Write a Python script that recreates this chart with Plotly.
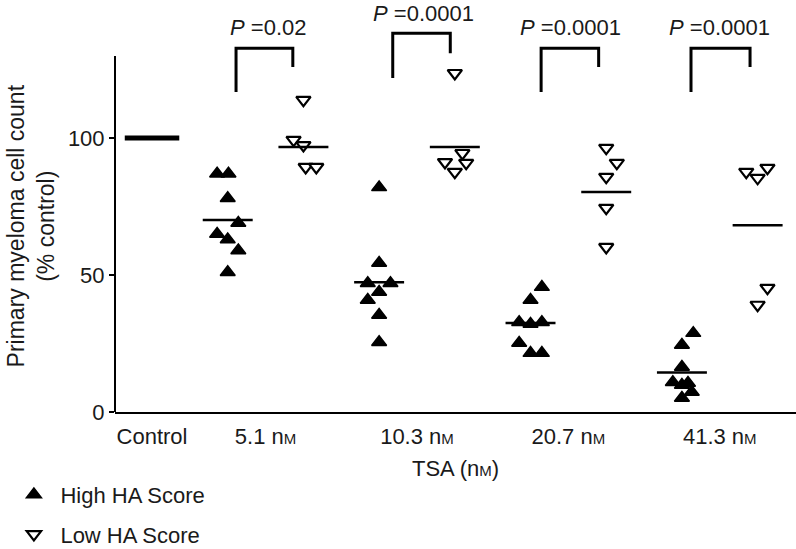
import plotly.graph_objects as go

# ---------------- data ----------------
categories = ["Control", "5.1 nM", "10.3 nM", "20.7 nM", "41.3 nM"]
tick_labels = ["Control",
               "5.1 n<span style='font-size:15px'>M</span>",
               "10.3 n<span style='font-size:15px'>M</span>",
               "20.7 n<span style='font-size:15px'>M</span>",
               "41.3 n<span style='font-size:15px'>M</span>"]
control_value = 100

high_5_1 = [87, 87, 78, 69, 65, 63, 59, 51]
high_10_3 = [82, 54.4, 47, 47, 43.8, 40.9, 35.4, 25.5]
high_20_7 = [45.6, 40.9, 32.8, 32.8, 32.1, 25.2, 21.5, 21.5]
high_41_3 = [28.8, 24.5, 16.4, 10.9, 10.6, 9.9, 7.3, 5.1]

low_5_1 = [113.9, 99.3, 97.4, 89.4, 89.4]
low_10_3 = [123.7, 94.5, 91.2, 90.9, 87.6]
low_20_7 = [96.4, 90.9, 85.8, 74.5, 60.2]
low_41_3 = [89.1, 87.6, 85.4, 45.3, 39.1]

high_means = [70.1, 47.4, 32.5, 14.4]
low_means = [96.7, 96.7, 80.3, 68.2]

p_values = ["0.02", "0.0001", "0.0001", "0.0001"]

# horizontal scatter of the points inside each group (category units)
jit_high = [
    [-0.14, 0.01, 0, 0.14, -0.14, 0, 0.14, 0],
    [0, 0, -0.15, 0.15, 0, -0.15, 0, 0],
    [0.15, 0, -0.15, 0.15, 0, -0.15, 0, 0.15],
    [0.15, 0, 0, -0.12, 0.08, 0, 0.13, 0],
]
jit_low = [
    [0, -0.13, 0, 0.03, 0.17],
    [0, 0.1, -0.13, 0.15, 0],
    [0, 0.14, 0, 0, 0],
    [0.13, -0.15, 0, 0.13, 0],
]

high_groups = [high_5_1, high_10_3, high_20_7, high_41_3]
low_groups = [low_5_1, low_10_3, low_20_7, low_41_3]

# ---------------- layout positions ----------------
ctrl_x = 0
high_x = [1, 3, 5, 7]
low_x = [2, 4, 6, 8]
tick_x = [0, 1.5, 3.5, 5.5, 7.5]

FONT = "Liberation Sans, Arial, Helvetica, sans-serif"
TXT = "#1a1a1a"
fig = go.Figure()

# data points
hx, hy, lx, ly = [], [], [], []
for g, xc, jit in zip(high_groups, high_x, jit_high):
    for v, j in zip(g, jit):
        hx.append(xc + j); hy.append(v)
for g, xc, jit in zip(low_groups, low_x, jit_low):
    for v, j in zip(g, jit):
        lx.append(xc + j); ly.append(v)

fig.add_trace(go.Scatter(
    x=hx, y=hy, mode="markers", name="High HA Score", legendgroup="a",
    marker=dict(symbol="triangle-up", size=13, color="black",
                line=dict(color="black", width=1.5)),
    cliponaxis=False))
fig.add_trace(go.Scatter(
    x=lx, y=ly, mode="markers", name="Low HA Score", legendgroup="b",
    marker=dict(symbol="triangle-down", size=12.5, color="white",
                line=dict(color="black", width=2.2)),
    cliponaxis=False))

# mean lines
hw = 0.33
for xc, m in zip(high_x + low_x, high_means + low_means):
    fig.add_trace(go.Scatter(x=[xc - hw, xc + hw], y=[m, m], mode="lines",
                             line=dict(color="black", width=2.5),
                             showlegend=False, hoverinfo="skip"))
# control bar
fig.add_trace(go.Scatter(x=[ctrl_x - 0.36, ctrl_x + 0.36],
                         y=[control_value, control_value], mode="lines",
                         line=dict(color="black", width=5),
                         showlegend=False, hoverinfo="skip"))

# significance brackets
br_left = [1.11, 3.18, 5.14, 7.12]
br_right = [1.86, 3.94, 5.90, 7.90]
br_top = [132.8, 138.3, 132.8, 132.8]
br_lbot = [116.8, 121.9, 116.8, 116.8]
br_rbot = [125.9, 131.0, 125.9, 125.9]
p_x = [1.53, 3.59, 5.53, 7.50]
p_y = [140.5, 145.6, 140.5, 140.5]
for L, R, t, lb, rb in zip(br_left, br_right, br_top, br_lbot, br_rbot):
    fig.add_trace(go.Scatter(x=[L, L, R, R], y=[lb, t, t, rb], mode="lines",
                             line=dict(color="black", width=3),
                             showlegend=False, hoverinfo="skip"))
for px_, py_, p in zip(p_x, p_y, p_values):
    fig.add_annotation(x=px_, y=py_, text="<i>P</i> =" + p, showarrow=False,
                       font=dict(size=22, color=TXT, family=FONT),
                       xanchor="center", yanchor="middle")

# y axis line (stops at 130)
fig.add_shape(type="line", xref="paper", yref="y", x0=0, x1=0, y0=0, y1=130,
              line=dict(color="black", width=2))

# y title
fig.add_annotation(xref="paper", yref="paper", x=-0.123, y=0.451,
                   text="Primary myeloma cell count<br>(% control)",
                   textangle=-90, showarrow=False,
                   font=dict(size=23, color=TXT, family=FONT),
                   xanchor="center", yanchor="middle")

fig.update_layout(
    width=796, height=549,
    margin=dict(l=115, r=0, t=0, b=137, autoexpand=False),
    paper_bgcolor="white", plot_bgcolor="white",
    font=dict(family=FONT, size=22, color=TXT),
    showlegend=True,
    legend=dict(x=-0.158, y=-0.15, xanchor="left", yanchor="top",
                font=dict(size=22, color=TXT), tracegroupgap=8,
                itemwidth=43, bgcolor="rgba(0,0,0,0)"),
    xaxis=dict(range=[-0.489, 8.507], tickvals=tick_x, ticktext=tick_labels,
               showline=True, linecolor="black", linewidth=2,
               ticks="", showgrid=False, zeroline=False,
               tickfont=dict(size=22, color=TXT), ticklabelstandoff=4,
               title=dict(text="TSA (n<span style='font-size:15px'>M</span>)",
                          font=dict(size=22, color=TXT), standoff=12)),
    yaxis=dict(range=[0, 150.4], tickvals=[0, 50, 100],
               ticks="outside", ticklen=5, tickwidth=2, tickcolor="black",
               showline=False, showgrid=False, zeroline=False,
               tickfont=dict(size=22, color=TXT), ticklabelstandoff=0),
)

fig.write_html("out.html", config={"displayModeBar": False},
               post_script="document.body.style.margin='0';"
                           "document.body.style.overflow='hidden';")
